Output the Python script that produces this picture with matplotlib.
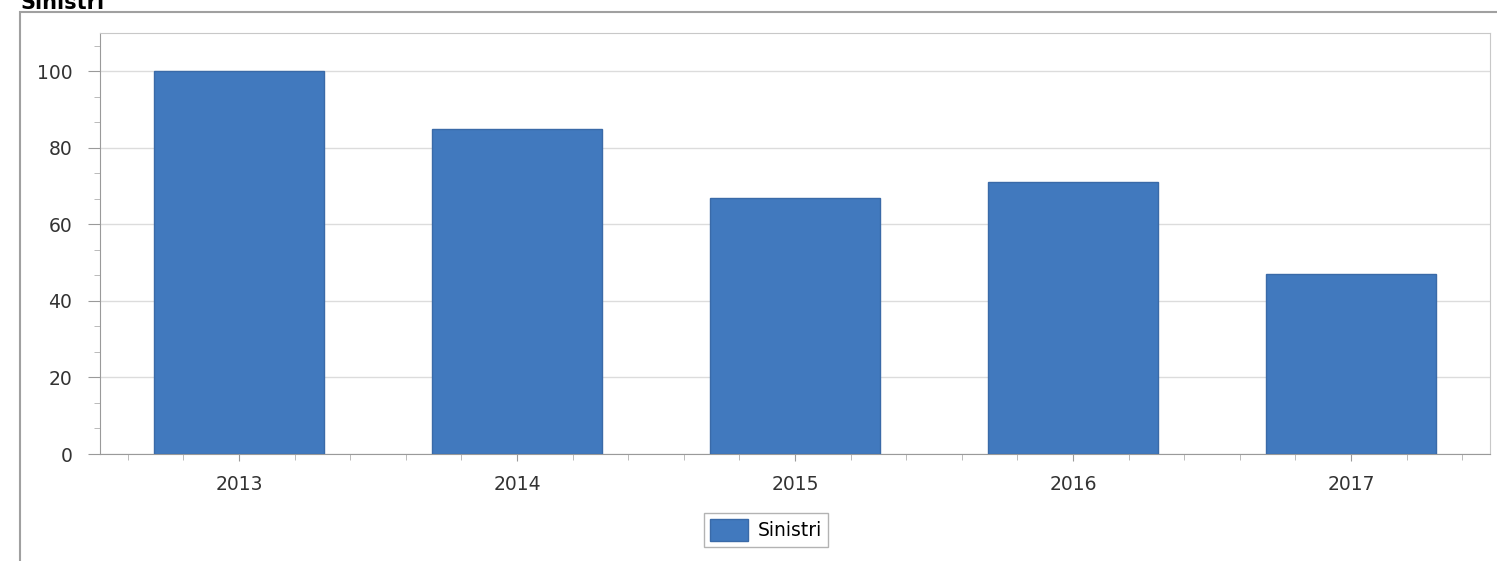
import numpy as np
import matplotlib.pyplot as plt
from matplotlib.ticker import MultipleLocator, AutoMinorLocator
from matplotlib.patches import Rectangle

anni = ['2013', '2014', '2015', '2016', '2017']
sinistri = [100, 85, 67, 71, 47]

fig = plt.figure(figsize=(14.97, 5.61), dpi=100)
fig.patch.set_facecolor('white')

# outer panel frame (top and left lines)
fig.patches.append(Rectangle((20 / 1497, -0.01), 1.1, 1 - 12 / 561 + 0.01,
                             transform=fig.transFigure, fill=False,
                             edgecolor='#a0a0a0', linewidth=1.5))
# title, cropped at the top edge as in the original screenshot
fig.text(20 / 1497, 1 - 9 / 561, 'Sinistri', fontsize=15, fontweight='bold',
         va='baseline', ha='left')

ax = fig.add_axes([100 / 1497, 107 / 561, 1390 / 1497, 421 / 561])
x = np.arange(len(anni))
bars = ax.bar(x, sinistri, width=0.61, color='#4179be', edgecolor='#3a6aa8',
              linewidth=1, label='Sinistri', zorder=3)

ax.set_xlim(-0.5, 4.5)
ax.set_ylim(0, 110)
ax.set_xticks(x)
ax.set_xticklabels(anni)
ax.xaxis.set_minor_locator(MultipleLocator(0.2))
ax.yaxis.set_major_locator(MultipleLocator(20))
ax.yaxis.set_minor_locator(AutoMinorLocator(3))

ax.grid(axis='y', color='#dcdcdc', linewidth=1, zorder=0)
for s in ['top', 'right']:
    ax.spines[s].set_color('#c8c8c8')
for s in ['left', 'bottom']:
    ax.spines[s].set_color('#9a9a9a')
ax.tick_params(axis='both', which='major', labelsize=13.5, colors='#9a9a9a',
               labelcolor='#333333')
ax.tick_params(axis='y', which='major', length=9, pad=11)
ax.tick_params(axis='x', which='major', length=5, pad=10)
ax.tick_params(axis='both', which='minor', colors='#b0b0b0', length=4)

leg = fig.legend(handles=[bars], labels=['Sinistri'], loc='center',
                 bbox_to_anchor=(766 / 1497, 1 - 530 / 561), fontsize=13.5,
                 frameon=True, fancybox=False, edgecolor='#a0a0a0',
                 handlelength=2.0, handleheight=1.4, handletextpad=0.5,
                 borderpad=0.35, borderaxespad=0)
leg.get_frame().set_linewidth(1)

fig.savefig('out.png', dpi=100)
